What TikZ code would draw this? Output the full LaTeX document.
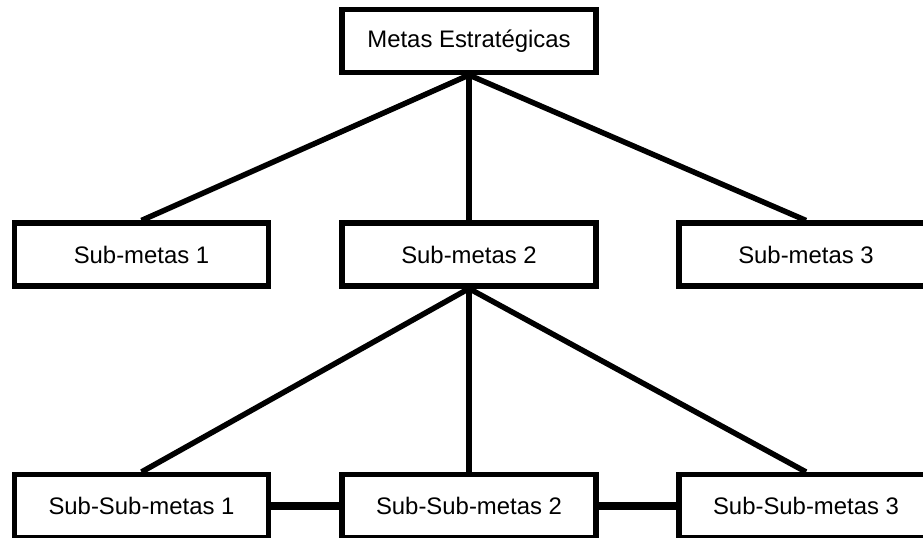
\documentclass[tikz,border=0pt]{standalone}
\usepackage{fontspec}
\setmainfont{Liberation Sans}
\usetikzlibrary{positioning}

\begin{document}
\begin{tikzpicture}[
    goal/.style={draw, line width=3.6pt, minimum width=6.35cm, minimum height=1.575cm,
                 inner sep=0pt, font=\fontsize{17}{20}\selectfont},
    link/.style={line width=3.9pt},
    chain/.style={line width=5.8pt},
]
  \useasboundingbox (0,0) rectangle (23.075,13.425);

  \node[goal] (meta) at (11.725, 12.4) {Metas Estratégicas};

  \node[goal] (sub1) at (3.5375, 7.0625) {Sub-metas 1};
  \node[goal] (sub2) at (11.725, 7.0625) {Sub-metas 2};
  \node[goal] (sub3) at (20.15, 7.0625) {Sub-metas 3};

  \node[goal] (ssub1) at (3.5375, 0.775) {Sub-Sub-metas 1};
  \node[goal] (ssub2) at (11.725, 0.775) {Sub-Sub-metas 2};
  \node[goal] (ssub3) at (20.15, 0.775) {Sub-Sub-metas 3};

  \draw[link] (meta.south) -- (sub1.north);
  \draw[link] (meta.south) -- (sub2.north);
  \draw[link] (meta.south) -- (sub3.north);
  \draw[link] (sub2.south) -- (ssub1.north);
  \draw[link] (sub2.south) -- (ssub2.north);
  \draw[link] (sub2.south) -- (ssub3.north);
  \draw[chain] (ssub1) -- (ssub2);
  \draw[chain] (ssub2) -- (ssub3);
\end{tikzpicture}
\end{document}
